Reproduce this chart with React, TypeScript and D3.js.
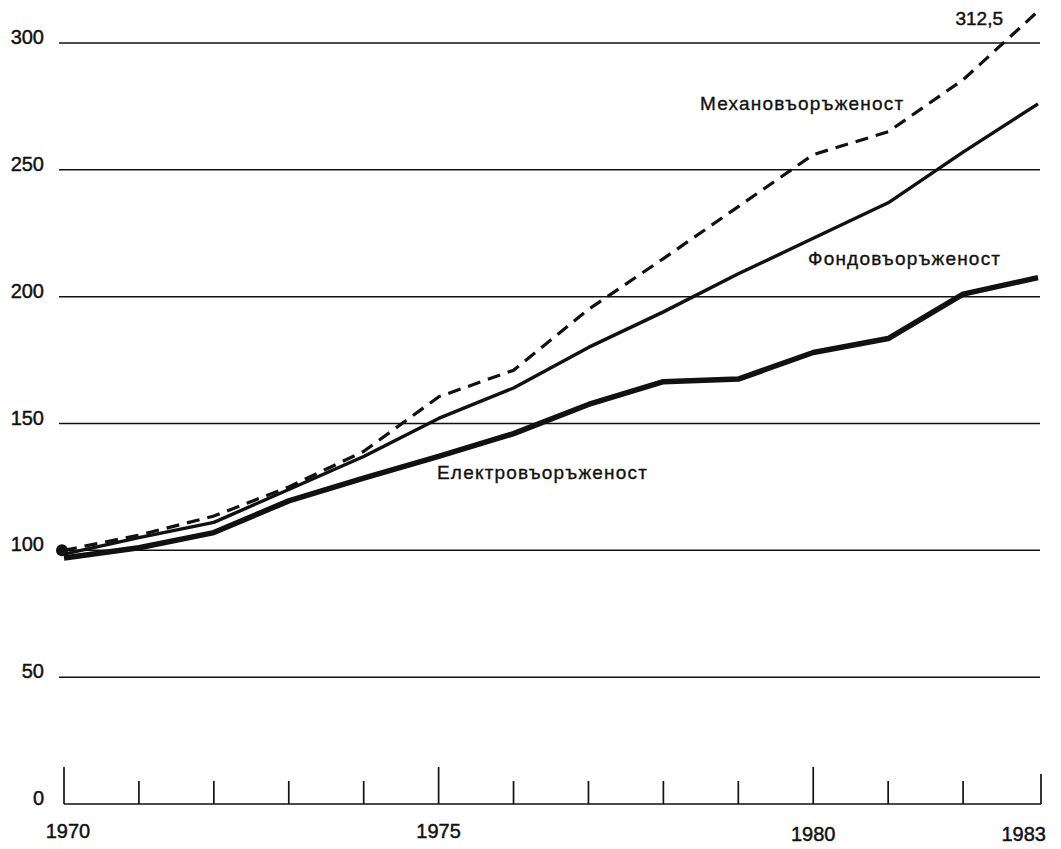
import React from "react";
import * as d3 from "d3";

const years = [1970, 1971, 1972, 1973, 1974, 1975, 1976, 1977, 1978, 1979, 1980, 1981, 1982, 1983];
const electro = [97, 101, 107, 119.5, 128.5, 137, 146, 157.5, 166.5, 167.5, 178, 183.5, 201, 207.5];
const fondo = [98.5, 105, 111, 124, 137, 152, 164, 180, 194, 209, 223, 237, 257, 276];
const mechan = [100, 106, 113.5, 125, 139, 160.5, 171, 195, 215, 235.5, 256, 265, 285.5, 312.5];
const yTicks = [0, 50, 100, 150, 200, 250, 300];
const gridValues = [50, 100, 150, 200, 250, 300];
const majorYears = [1970, 1975, 1980, 1983];
const labelYears = [1970, 1975, 1980, 1983];
const seriesNames = ["Електровъоръженост", "Фондовъоръженост", "Механовъоръженост"];
const endLabel = "312,5";

const W = 1061;
const H = 849;
const FONT = "'Liberation Sans', Arial, Helvetica, sans-serif";

export default function App() {
  const x = d3.scaleLinear().domain([1970, 1983]).range([64, 1038]);
  const y = d3.scaleLinear().domain([0, 300]).range([804, 43]);

  const line = d3
    .line<number>()
    .x((_, i) => x(years[i]))
    .y((d) => y(d))
    .curve(d3.curveLinear);

  const tickYears = d3.range(1970, 1984);

  const tickText = {
    fontFamily: FONT,
    fontSize: 20,
    fill: "#111",
    stroke: "#111",
    strokeWidth: 0.45,
  } as const;

  const seriesText = {
    fontFamily: FONT,
    fontSize: 19,
    fill: "#111",
    stroke: "#111",
    strokeWidth: 0.35,
    letterSpacing: 1.2,
  } as const;

  return (
    <svg
      width={W}
      height={H}
      viewBox={`0 0 ${W} ${H}`}
      style={{ position: "absolute", left: 0, top: 0, background: "#fff" }}
    >
      <rect x={0} y={0} width={W} height={H} fill="#fff" />
      {/* gridlines */}
      {gridValues.map((v) => (
        <line key={v} x1={59} x2={1040} y1={y(v)} y2={y(v)} stroke="#111" strokeWidth={1.5} />
      ))}
      {/* y labels */}
      {yTicks.map((v) => (
        <text key={v} x={44} y={y(v) + 1} textAnchor="end" {...tickText}>
          {v}
        </text>
      ))}
      {/* x axis */}
      <line x1={x(1970)} x2={x(1983) + 3} y1={y(0)} y2={y(0)} stroke="#111" strokeWidth={1.7} />
      {tickYears.map((yr) => {
        const len = yr === 1983 ? 30 : majorYears.includes(yr) ? 37 : 23;
        const xx = x(yr) + (yr === 1983 ? 3 : 0);
        return <line key={yr} x1={xx} x2={xx} y1={y(0)} y2={y(0) - len} stroke="#111" strokeWidth={1.7} />;
      })}
      {labelYears.map((yr) => (
        <text
          key={yr}
          x={yr === 1983 ? x(yr) + 8 : yr === 1970 ? x(yr) + 4 : x(yr)}
          y={yr >= 1980 ? 841 : 838}
          textAnchor={yr === 1983 ? "end" : "middle"}
          {...tickText}
        >
          {yr}
        </text>
      ))}
      {/* series */}
      <path d={line(mechan) || ""} fill="none" stroke="#111" strokeWidth={3.2} strokeDasharray="13 8" />
      <path d={line(fondo) || ""} fill="none" stroke="#111" strokeWidth={3.4} strokeLinejoin="round" />
      <path d={line(electro) || ""} fill="none" stroke="#111" strokeWidth={5.5} strokeLinejoin="round" />
      <circle cx={x(1970) - 2} cy={y(100)} r={6} fill="#111" />
      {/* labels */}
      <text x={437} y={479} {...seriesText}>
        {seriesNames[0]}
      </text>
      <text x={808} y={265} {...seriesText}>
        {seriesNames[1]}
      </text>
      <text x={700} y={110} {...seriesText}>
        {seriesNames[2]}
      </text>
      <text x={1003} y={25} textAnchor="end" {...tickText} fontSize={19}>
        {endLabel}
      </text>
    </svg>
  );
}
